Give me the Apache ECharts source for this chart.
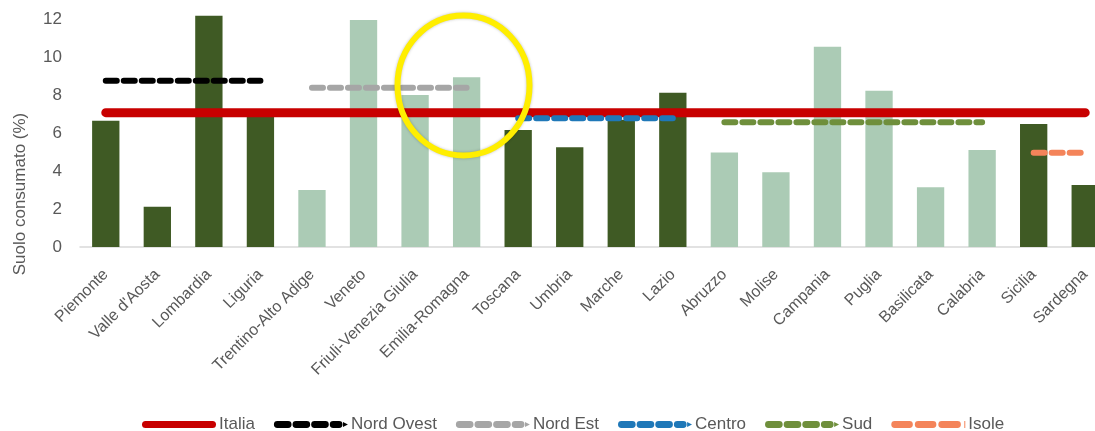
<!DOCTYPE html>
<html>
<head>
<meta charset="utf-8">
<script src="https://cdn.jsdelivr.net/npm/echarts@6/dist/echarts.min.js"></script>
<style>
html,body{margin:0;padding:0;background:#fff;overflow:hidden;width:1095px;height:431px;}
#chart{width:1111px;height:431px;}
</style>
</head>
<body>
<div id="chart"></div>
<script>
var categories = ['Piemonte', "Valle d'Aosta", 'Lombardia', 'Liguria', 'Trentino-Alto Adige', 'Veneto', 'Friuli-Venezia Giulia', 'Emilia-Romagna', 'Toscana', 'Umbria', 'Marche', 'Lazio', 'Abruzzo', 'Molise', 'Campania', 'Puglia', 'Basilicata', 'Calabria', 'Sicilia', 'Sardegna'];
var macroArea = ['NO', 'NO', 'NO', 'NO', 'NE', 'NE', 'NE', 'NE', 'C', 'C', 'C', 'C', 'S', 'S', 'S', 'S', 'S', 'S', 'I', 'I'];
var suoloConsumato = [6.65, 2.12, 12.17, 7.0, 3.0, 11.95, 8.0, 8.93, 6.16, 5.25, 6.7, 8.12, 4.98, 3.93, 10.54, 8.23, 3.14, 5.1, 6.47, 3.26];
var italiaValue = 7.07;
var nordOvestValue = 8.75;
var nordEstValue = 8.38;
var centroValue = 6.77;
var sudValue = 6.56;
var isoleValue = 4.96;
var yTicks = [0, 2, 4, 6, 8, 10, 12];
var legendNames = ['Italia', 'Nord Ovest', 'Nord Est', 'Centro', 'Sud', 'Isole'];

var fontFam = '"Liberation Sans", Arial, sans-serif';
var txtColor = '#595959';

function areaLine(key, v) {
  return categories.map(function (c, i) { return macroArea[i] === key ? v : null; });
}
var darkAreas = { NO: 1, C: 1, I: 1 };

// legend icon shapes (74 x 7 box)
var solidIcon = 'path://M3.5,0h67a3.5,3.5 0 0 1 0,7h-67a3.5,3.5 0 0 1 0,-7z';
var dashIcon = 'path://M2,0h11a2,2 0 0 1 0,7h-11a2,2 0 0 1 0,-7z M21,0h11a2,2 0 0 1 0,7h-11a2,2 0 0 1 0,-7z M40,0h11a2,2 0 0 1 0,7h-11a2,2 0 0 1 0,-7z M59,0h6a2,2 0 0 1 0,7h-6a2,2 0 0 1 0,-7z M69,1l5,2.5l-5,2.5z';
var isoleIcon = 'path://M2,0h15a2,2 0 0 1 0,7h-15a2,2 0 0 1 0,-7z M26,0h15a2,2 0 0 1 0,7h-15a2,2 0 0 1 0,-7z M50,0h16a2,2 0 0 1 0,7h-16a2,2 0 0 1 0,-7z M73,0h1v7h-1z';

var chart = echarts.init(document.getElementById('chart'), null, { renderer: 'canvas' });

function dashedLine(name, key, v, color) {
  return {
    name: name, type: 'line', data: areaLine(key, v), symbol: 'none', z: 4,
    lineStyle: { color: color, width: 6, type: [11, 7], cap: 'round' },
    itemStyle: { color: color }
  };
}

var option = {
  animation: false,
  backgroundColor: '#ffffff',
  grid: { left: 80, right: 0, top: 19, bottom: 184, containLabel: false },
  xAxis: {
    type: 'category',
    data: categories,
    boundaryGap: true,
    axisLine: { show: true, lineStyle: { color: '#d9d9d9', width: 1.5 } },
    axisTick: { show: false },
    axisLabel: { interval: 0, rotate: 45, margin: 25, color: txtColor, fontSize: 16, fontFamily: fontFam }
  },
  yAxis: {
    type: 'value', min: yTicks[0], max: yTicks[yTicks.length - 1], interval: 2,
    axisLine: { show: false }, axisTick: { show: false }, splitLine: { show: false },
    axisLabel: { color: txtColor, fontSize: 17, fontFamily: fontFam, margin: 18 }
  },
  legend: {
    left: 137, top: 411,
    itemWidth: 74, itemHeight: 7, itemGap: 19,
    textStyle: { color: txtColor, fontSize: 17, fontFamily: fontFam, padding: [0, 0, 0, -2] },
    data: [
      { name: legendNames[0], icon: solidIcon },
      { name: legendNames[1], icon: dashIcon },
      { name: legendNames[2], icon: dashIcon },
      { name: legendNames[3], icon: dashIcon },
      { name: legendNames[4], icon: dashIcon },
      { name: legendNames[5], icon: isoleIcon }
    ]
  },
  graphic: [
    {
      type: 'text', x: 20, y: 194, rotation: Math.PI / 2,
      style: { text: 'Suolo consumato (%)', fill: txtColor, font: '17px "Liberation Sans", Arial, sans-serif', align: 'center', verticalAlign: 'middle' }
    },
    {
      type: 'ellipse', z: 100,
      shape: { cx: 463.5, cy: 85.5, rx: 66, ry: 70 },
      style: { fill: 'none', stroke: '#FFEE00', lineWidth: 6, shadowBlur: 3, shadowColor: 'rgba(0,0,0,0.25)' }
    }
  ],
  series: [
    {
      name: 'Suolo consumato', type: 'bar', data: suoloConsumato, barCategoryGap: '47%', clip: false, z: 2,
      itemStyle: {
        color: function (p) { return darkAreas[macroArea[p.dataIndex]] ? '#3f5a24' : '#abcbb5'; }
      }
    },
    {
      name: 'Italia', type: 'line', data: categories.map(function () { return italiaValue; }), symbol: 'none', z: 3,
      lineStyle: { color: '#c80000', width: 9, cap: 'round' }, itemStyle: { color: '#c80000' }
    },
    dashedLine('Nord Ovest', 'NO', nordOvestValue, '#000000'),
    dashedLine('Nord Est', 'NE', nordEstValue, '#a6a6a6'),
    dashedLine('Centro', 'C', centroValue, '#1f78b8'),
    dashedLine('Sud', 'S', sudValue, '#6f8f3c'),
    dashedLine('Isole', 'I', isoleValue, '#f4845a')
  ]
};
chart.setOption(option);
</script>
</body>
</html>
